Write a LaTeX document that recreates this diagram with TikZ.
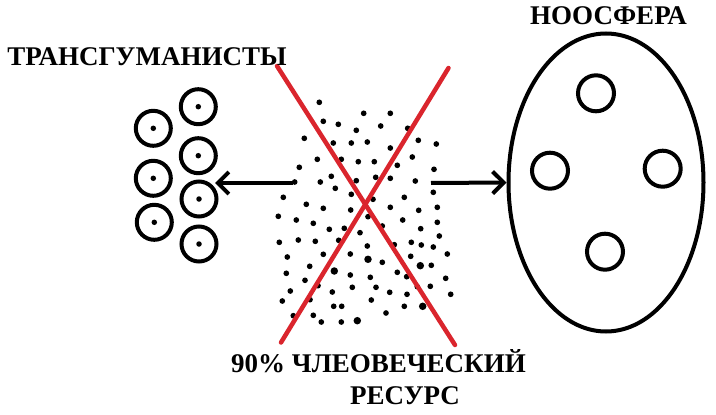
\documentclass[tikz,border=0pt]{standalone}
\usepackage{fontspec}
\setmainfont{Liberation Serif}
\usetikzlibrary{arrows.meta,shapes.geometric}
\definecolor{xred}{RGB}{218,37,45}
\tikzset{
  ring/.style={draw, circle, line width=4pt, minimum size=35pt, inner sep=0pt},
  bigring/.style={draw, circle, line width=4pt, minimum size=36pt, inner sep=0pt},
  pip/.style={fill, circle, minimum size=5.5pt, inner sep=0pt},
  dot/.style={fill, circle, minimum size=5.7pt, inner sep=0pt},
  bigdot/.style={fill, circle, minimum size=7.5pt, inner sep=0pt},
  flow/.style={line width=4pt, -{Straight Barb[length=11pt,width=22pt,line width=4pt]}},
  cross/.style={xred, line width=4.5pt, line cap=round},
  lbl/.style={font=\fontsize{27}{27}\selectfont\bfseries, inner sep=0pt, anchor=base}
}
\begin{document}
\begin{tikzpicture}[x=1pt,y=-1pt]
\useasboundingbox (0,0) rectangle (716,415);
% left group
\foreach \n/\x/\y in {a1/153.3/128.3, a2/153.3/178.3, a3/154.3/222.3, b1/198.3/106.7, b2/198.3/155.7, b3/199/199, b4/199/244}{
  \node[ring] (\n) at (\x,\y) {};
  \node[pip] (p\n) at (\x,\y) {};
}
% noosphere
\node[draw, ellipse, line width=4pt, minimum width=195pt, minimum height=298pt, inner sep=0pt] (noo) at (606,182.5) {};
\node[bigring] (c1) at (596,93.3) {};
\node[bigring] (c2) at (550,170.7) {};
\node[bigring] (c3) at (662.7,168.7) {};
\node[bigring] (c4) at (605,251.7) {};
% dots
\foreach \x/\y [count=\i] in {319.3/102.3, 363.7/113.3, 390.3/113.3, 323.3/121.3, 338.3/124.3, 380.7/126, 356.3/130.3, 407.7/128.3, 304.3/138.3, 418.3/140.3, 436.3/144, 333.3/143, 351.3/143, 367.3/142, 390.3/148, 412.3/157, 317.3/159.3, 341.3/159.3, 358.3/161.7, 374.3/161.7, 397.3/165.3, 299.3/167.3, 434/169.3, 331.3/176.3, 375.7/177.3, 390.3/178.3, 294.7/182, 320.3/182, 356.3/180.7, 415.3/181, 335.3/188.3, 433.3/192.3, 351.3/194.3, 283.3/197.3, 373/199.3, 404.3/197.3, 306.3/204.3, 323.3/208.3, 390.3/207.3, 350.7/210, 418.7/210.3, 437.3/207.3, 278.3/216.3, 296.3/220, 368/216.7, 313.3/223.3, 402.7/220, 437.3/222.3, 329.3/229.3, 344.3/228.3, 382.3/226, 420.7/228.7, 360/232.7, 439.3/236, 279.3/242.3, 298.3/240, 315.3/241.3, 338.7/240.3, 394.3/244.7, 411.3/242.3, 421.3/245, 433.3/247, 367.3/246, 287.3/257, 323.3/254.3, 350.3/254, 382.3/262.3, 410.7/256.3, 431.3/265.3, 447.3/254, 309.7/266.3, 286.3/273.3, 350.3/275, 397.3/272.3, 406.7/276.7, 305/280.3, 370.3/277.3, 445.7/278.3, 318/285.7, 352.3/287.3, 376/287.3, 417.3/286.7, 430.3/286.3, 290.3/291, 332.3/292, 389.7/292.3, 407/294.3, 450.7/294.3, 282.3/301, 310/299.7, 371.3/300, 333.7/306.3, 341.7/306.3, 404.3/306.3, 293.3/315.7, 313.3/315.3, 386/313, 321.3/322, 341.3/322}{
  \node[dot] (d\i) at (\x,\y) {};
}
\foreach \x/\y [count=\i] in {368/259.3, 420.3/265.7, 334.3/271, 422.7/306.3, 357.3/320.7}{
  \node[bigdot] (e\i) at (\x,\y) {};
}
% arrows
\coordinate (ls) at (293,183);
\coordinate (lt) at (215,183);
\coordinate (rs) at (431,183);
\draw[flow] (ls) -- (lt);
\draw[flow] (rs) -- (noo.west);
% cross
\coordinate (x1) at (277,66);
\coordinate (x2) at (455,345);
\coordinate (x3) at (448.5,68);
\coordinate (x4) at (281,342.5);
\draw[cross] (x1) -- (x2);
\draw[cross] (x3) -- (x4);
% labels
\node[lbl] (t1) at (147,65.7) {ТРАНСГУМАНИСТЫ};
\node[lbl] (t2) at (608.5,24.5) {НООСФЕРА};
\node[lbl] (t3) at (378.5,372.5) {90\% ЧЛЕОВЕЧЕСКИЙ};
\node[lbl] (t4) at (405,404.5) {РЕСУРС};
\end{tikzpicture}
\end{document}
